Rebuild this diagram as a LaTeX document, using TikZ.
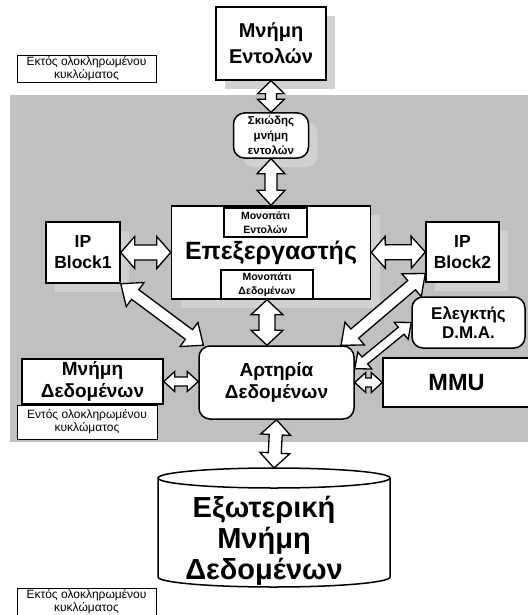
\documentclass[tikz,border=0pt]{standalone}
\usepackage{fontspec}
\setmainfont{Liberation Sans}[BoldFont={Liberation Sans Bold}]
\usepackage{xcolor}
\usetikzlibrary{calc,shadows}

\definecolor{chipgray}{RGB}{192,192,192}

\newcommand{\dblarrow}[5]{%
  \coordinate (da1) at ($(#1)!#5!(#2)$);
  \coordinate (da2) at ($(#2)!#5!(#1)$);
  \draw[fatarrow] (#1) -- ($(da1)!#4!90:(#2)$) -- ($(da1)!#3!90:(#2)$)
    -- ($(da2)!#3!90:(#2)$) -- ($(da2)!#4!90:(#2)$) -- (#2)
    -- ($(da2)!#4!-90:(#2)$) -- ($(da2)!#3!-90:(#2)$)
    -- ($(da1)!#3!-90:(#2)$) -- ($(da1)!#4!-90:(#2)$) -- cycle;
}

\begin{document}
\begin{tikzpicture}[
    x=1pt, y=-1pt,
    box/.style={draw, line width=1.5pt, fill=white, align=center, inner sep=0pt},
    rbox/.style={box, rounded corners=11pt},
    lifted/.style={drop shadow={shadow xshift=9pt, shadow yshift=-9pt, fill=black!18, opacity=1}},
    note/.style={draw, line width=0.5pt, fill=white, align=center, inner sep=0pt,
        minimum width=139pt, minimum height=27pt, font=\fontsize{12}{13}\selectfont},
    fatarrow/.style={draw, line width=1.3pt, fill=white, line join=miter}
]
    \useasboundingbox (0,0) rectangle (527,615);

    \fill[chipgray] (10,95) rectangle (535,442);

    \node[note] (offtop) at (86.5,68.5) {Εκτός ολοκληρωμένου\\κυκλώματος};
    \node[note, minimum width=140pt, minimum height=34pt] (onchip) at (87,422) {Εντός ολοκληρωμένου\\κυκλώματος};
    \node[note] (offbot) at (86.5,602) {Εκτός ολοκληρωμένου\\κυκλώματος};

    \node[box, lifted, minimum width=110pt, minimum height=73pt, font=\fontsize{20}{26}\selectfont\bfseries] (imem) at (271,43.5) {Μνήμη\\Εντολών};
    \node[rbox, lifted, minimum width=75pt, minimum height=45pt, font=\fontsize{11.5}{15}\selectfont\bfseries] (cache) at (271,135.5) {Σκιώδης\\μνήμη\\εντολών};
    \node[box, lifted, minimum width=199pt, minimum height=93pt, font=\fontsize{25}{30}\selectfont\bfseries] (cpu) at (271,252.5) {Επεξεργαστής};
    \node[box, minimum width=83pt, minimum height=29pt, font=\fontsize{10.5}{14}\selectfont\bfseries] (ipath) at (265.5,222.5) {Μονοπάτι\\Εντολών};
    \node[box, minimum width=92pt, minimum height=29pt, font=\fontsize{10.5}{14}\selectfont\bfseries] (dpath) at (267,284.5) {Μονοπάτι\\Δεδομένων};

    \node[box, lifted, minimum width=74pt, minimum height=61pt, font=\fontsize{17.5}{21}\selectfont\bfseries] (ip1) at (83,252.5) {IP\\Block1};
    \node[box, lifted, minimum width=73pt, minimum height=60pt, font=\fontsize{17.5}{21}\selectfont\bfseries] (ip2) at (462.5,252) {IP\\Block2};

    \node[rbox, minimum width=113pt, minimum height=51pt, font=\fontsize{17}{19.5}\selectfont\bfseries] (dma) at (468.5,322.5) {Ελεγκτής\\D.M.A.};
    \node[rbox, minimum width=155pt, minimum height=73pt, font=\fontsize{19}{22}\selectfont\bfseries] (bus) at (276.5,382.5) {Αρτηρία\\Δεδομένων};
    \node[box, minimum width=141pt, minimum height=45pt, font=\fontsize{19}{22}\selectfont\bfseries] (dmem) at (92.5,381.5) {Μνήμη\\Δεδομένων};
    \node[box, minimum width=147pt, minimum height=49pt, font=\fontsize{23.5}{27}\selectfont\bfseries] (mmu) at (456.5,382.5) {MMU};

    \draw[box] (158,478) -- (158,577) arc[start angle=180, end angle=360, x radius=116pt, y radius=10pt]
        -- (390,478) arc[start angle=0, end angle=180, x radius=116pt, y radius=10pt] -- cycle;
    \draw[line width=1.5pt] (158,478) arc[start angle=180, end angle=360, x radius=116pt, y radius=10pt];
    \node[inner sep=0pt, align=center,
        font=\fontsize{29}{31}\selectfont\bfseries] (ext) at (264,541) {Εξωτερική\\Μνήμη\\Δεδομένων};

    \coordinate (cpubot) at (dpath.south);
    \coordinate (bustop) at (bus.north -| dpath.south);
    \coordinate (busleft) at (bus.west |- dmem.east);
    \coordinate (exttop) at (274,468);

    \dblarrow{imem.south}{cache.north}{5.5pt}{13.5pt}{13pt}
    \dblarrow{cache.south}{cpu.north}{6pt}{14pt}{15pt}
    \dblarrow{ip1.east}{cpu.west}{7.5pt}{16pt}{14pt}
    \dblarrow{cpu.east}{ip2.west}{7.5pt}{16pt}{14pt}
    \dblarrow{cpubot}{bustop}{8pt}{16pt}{15pt}
    \dblarrow{ip1.south east}{bus.153}{6pt}{15pt}{18pt}
    \dblarrow{ip2.210}{bus.30}{6pt}{15pt}{18pt}
    \dblarrow{bus.10}{dma.west}{4.5pt}{11pt}{13pt}
    \dblarrow{dmem.east}{busleft}{4.5pt}{10pt}{11pt}
    \dblarrow{bus.east}{mmu.west}{4.5pt}{10pt}{11pt}
    \dblarrow{bus.south}{exttop}{6.5pt}{15pt}{15pt}

\end{tikzpicture}
\end{document}
